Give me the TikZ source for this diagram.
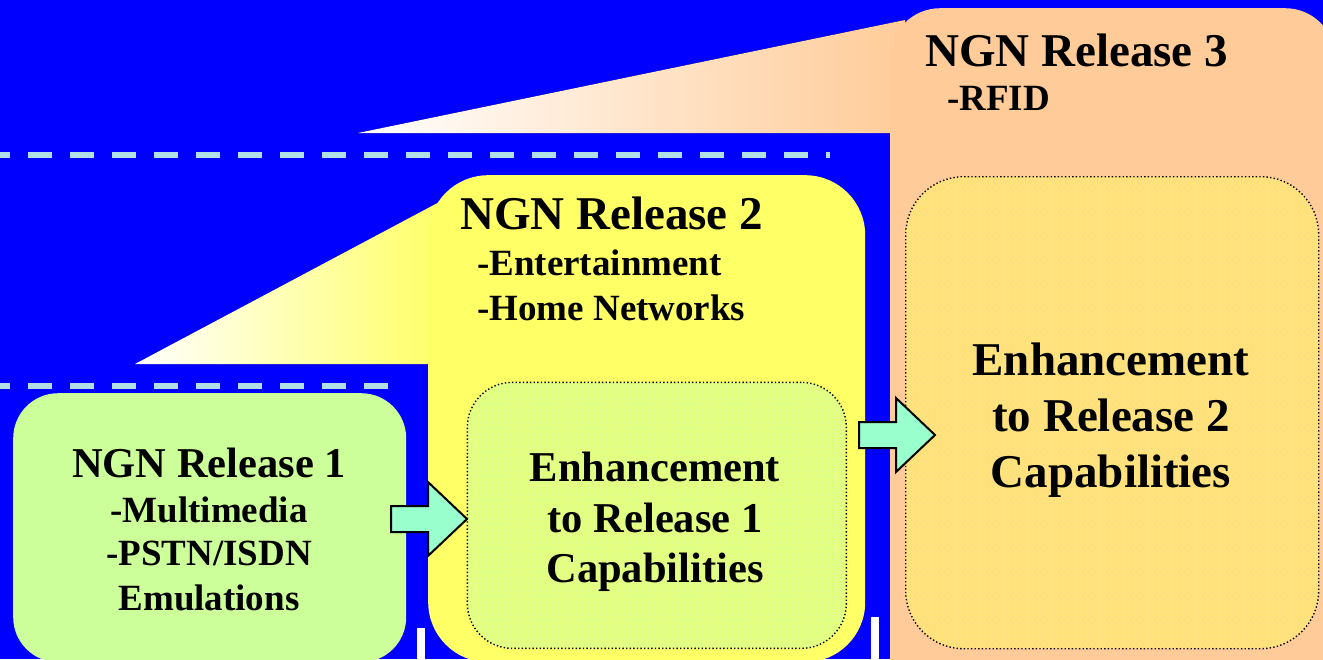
\documentclass[tikz,border=0pt]{standalone}
\usepackage{fontspec}
\setmainfont{Liberation Serif}
\usetikzlibrary{patterns.meta}

\definecolor{bgblue}{HTML}{0000FF}
\definecolor{peach}{HTML}{FFCC99}
\definecolor{relyellow}{HTML}{FFFF66}
\definecolor{relgreen}{HTML}{CCFF99}
\definecolor{dashblue}{HTML}{B0E0E6}
\definecolor{arrowfill}{HTML}{99FFCC}
\definecolor{innertwo}{HTML}{E4FF80}
\definecolor{innertwogrid}{HTML}{D6FFA0}
\definecolor{innerthree}{HTML}{FFE07E}
\definecolor{innerthreegrid}{HTML}{FFEC70}

\tikzset{
  release/.style={draw=none, inner sep=0pt, anchor=north west},
  inner box/.style={release, draw=black, line width=1.4pt,
    dash pattern=on 1.4pt off 2.2pt},
  dashline/.style={draw=dashblue, line width=6pt, dash pattern=on 24pt off 18pt},
  arrowstyle/.style={fill=arrowfill, draw=black, line width=2pt, line join=miter},
  label/.style={inner sep=0pt, text=black, font=\bfseries},
  bigtitle/.style={label, font=\bfseries\fontsize{47}{56}\selectfont},
  midtitle/.style={label, font=\bfseries\fontsize{42.5}{50}\selectfont},
  bullet/.style={label, font=\bfseries\fontsize{37}{44}\selectfont},
  pics/blockarrow/.style={code={
    \draw[arrowstyle] (0,-13) -- (37,-13) -- (37,-37) -- (76,0)
      -- (37,37) -- (37,13) -- (0,13) -- cycle;}}
}

\begin{document}
\begin{tikzpicture}[x=1pt,y=-1pt]
  \clip (0,0) rectangle (1323,659);
  \fill[bgblue] (0,0) rectangle (1323,659);

  % dashed level lines
  \draw[dashline] (-14,155) -- (830,155);
  \draw[dashline] (-14,386) -- (388,386);

  % Release 3: wedge and panel
  \fill[left color=white, right color=peach] (358,133) -- (905,20) -- (905,133) -- cycle;
  \node[release, fill=peach, rounded corners=50pt,
        minimum width=445pt, minimum height=720pt] (r3) at (890,8) {};

  % Release 2: wedge and panel
  \fill[left color=white, right color=relyellow] (135,364) -- (445,199) -- (445,364) -- cycle;
  \node[release, fill=relyellow, rounded corners=60pt,
        minimum width=437pt, minimum height=487pt] (r2) at (428,175) {};

  % Release 1 panel
  \node[release, fill=relgreen, rounded corners=45pt,
        minimum width=393pt, minimum height=269pt] (r1) at (13,393) {};

  % white ticks at the bottom
  \fill[white] (417,628) rectangle (425,665);
  \fill[white] (871,617) rectangle (879,665);

  % enhancement boxes
  \node[inner box, rounded corners=45pt,
        preaction={fill=innertwo},
        pattern={Hatch[angle=0,distance=6pt,line width=0.7pt]},
        pattern color=innertwogrid,
        minimum width=379pt, minimum height=266pt] (in2) at (467,382) {};
  \node[inner box, rounded corners=58pt,
        preaction={fill=innerthree},
        pattern={Hatch[angle=0,distance=6pt,line width=0.7pt]},
        pattern color=innerthreegrid,
        minimum width=413pt, minimum height=472pt] (in3) at (905,176) {};

  % block arrows between the stages
  \coordinate (arrA) at (391,519);
  \coordinate (arrB) at (859,435);
  \pic at (arrA) {blockarrow};
  \pic at (arrB) {blockarrow};

  % Release 3 texts
  \node[bigtitle, anchor=base west] (r3title) at (925,66) {NGN Release 3};
  \node[bullet, anchor=base west] (r3b1) at (947,110) {-RFID};
  \node[bigtitle, anchor=base] (e2a) at (1111,375) {Enhancement};
  \node[bigtitle, anchor=base] (e2b) at (1111,431) {to Release 2};
  \node[bigtitle, anchor=base] (e2c) at (1111,487) {Capabilities};

  % Release 2 texts
  \node[bigtitle, anchor=base west] (r2title) at (460,229) {NGN Release 2};
  \node[bullet, anchor=base west] (r2b1) at (477,275) {-Entertainment};
  \node[bullet, anchor=base west] (r2b2) at (477,320) {-Home Networks};
  \node[midtitle, anchor=base] (e1a) at (655,481) {Enhancement};
  \node[midtitle, anchor=base] (e1b) at (655,532) {to Release 1};
  \node[midtitle, anchor=base] (e1c) at (655,582) {Capabilities};

  % Release 1 texts
  \node[midtitle, anchor=base] (r1title) at (209,477) {NGN Release 1};
  \node[bullet, anchor=base] (r1b1) at (209,522) {-Multimedia};
  \node[bullet, anchor=base] (r1b2) at (209,565) {-PSTN/ISDN};
  \node[bullet, anchor=base] (r1b3) at (209,610) {Emulations};
\end{tikzpicture}
\end{document}
